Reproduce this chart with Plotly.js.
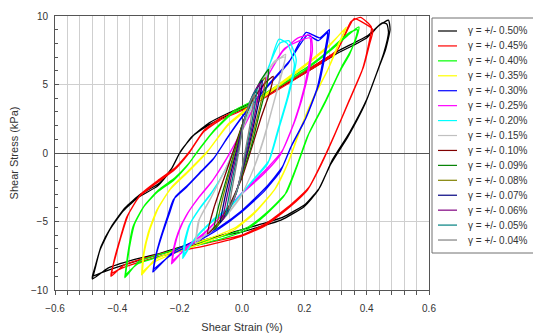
<!DOCTYPE html>
<html><head><meta charset="utf-8">
<script src="https://cdn.plot.ly/plotly-3.0.1.min.js"></script>
<style>html,body{margin:0;padding:0;background:#fff;}#chart{width:533px;height:336px;}</style>
</head><body><div id="chart"></div>
<script>
// Series labels
const labels = ["γ = +/- 0.50%","γ = +/- 0.45%","γ = +/- 0.40%","γ = +/- 0.35%","γ = +/- 0.30%","γ = +/- 0.25%","γ = +/- 0.20%","γ = +/- 0.15%","γ = +/- 0.10%","γ = +/- 0.09%","γ = +/- 0.08%","γ = +/- 0.07%","γ = +/- 0.06%","γ = +/- 0.05%","γ = +/- 0.04%"];
const colors = ["#000000","#ff0000","#00ff00","#ffff00","#0000ff","#ff00ff","#00ffff","#c0c0c0","#800000","#008000","#808000","#000080","#800080","#008080","#808080"];

// Shear strain (%) / shear stress (kPa) loops (two cycles for the larger loops)
const strain050 = [-0.48,-0.472,-0.456,-0.424,-0.38,-0.33,-0.27,-0.23,-0.2,-0.16,-0.11,-0.05,0.02,0.1,0.2,0.3,0.4,0.44,0.47,0.475,0.46,0.44,0.40,0.345,0.29,0.25,0.205,0.13,0.06,0.0,-0.05,-0.16,-0.26,-0.35,-0.43,-0.48];
const stress050 = [-9.2,-8.5,-7.1,-5.6,-4.2,-3.2,-2.4,-1.3,0,1.2,2.0,2.7,3.4,4.5,5.8,7.2,8.4,9.3,9.7,9.0,7.5,6.3,3.9,1.5,-0.5,-2.5,-3.7,-4.7,-5.2,-5.6,-5.9,-6.6,-7.3,-7.8,-8.4,-9.2];
const strain050b = [-0.48,-0.47,-0.452,-0.42,-0.375,-0.325,-0.265,-0.225,-0.195,-0.155,-0.105,-0.045,0.025,0.105,0.205,0.305,0.405,0.45,0.465,0.47,0.455,0.435,0.395,0.34,0.285,0.245,0.2,0.125,0.055,-0.005,-0.055,-0.165,-0.265,-0.355,-0.435,-0.48];
const stress050b = [-9.0,-8.2,-6.8,-5.4,-4.0,-3.0,-2.2,-1.1,0.2,1.3,2.2,2.9,3.6,4.7,6.0,7.4,8.6,9.5,9.4,8.8,7.3,6.0,3.6,1.2,-0.8,-2.7,-3.9,-4.9,-5.4,-5.8,-6.0,-6.8,-7.4,-8.0,-8.6,-9.0];
const strain045 = [-0.42,-0.41,-0.393,-0.37,-0.33,-0.275,-0.22,-0.17,-0.125,-0.07,0.0,0.1,0.2,0.3,0.36,0.39,0.42,0.41,0.39,0.345,0.3,0.26,0.215,0.16,0.08,0.0,-0.1,-0.2,-0.3,-0.38,-0.42];
const stress045 = [-9.0,-7.8,-6.4,-4.7,-3.2,-2.2,-1.3,0,1.5,2.4,3.1,4.4,5.8,7.3,9.8,9.5,9.0,8.0,6.3,3.9,1.5,-0.5,-2.5,-3.7,-5.1,-6.0,-6.5,-7.0,-7.6,-8.2,-9.0];
const strain045b = [-0.42,-0.405,-0.388,-0.365,-0.325,-0.27,-0.215,-0.165,-0.12,-0.065,0.005,0.105,0.205,0.305,0.35,0.38,0.415,0.405,0.385,0.34,0.295,0.255,0.21,0.155,0.075,-0.005,-0.105,-0.205,-0.305,-0.385,-0.42];
const stress045b = [-8.8,-7.5,-6.1,-4.5,-3.0,-2.0,-1.1,0.2,1.7,2.6,3.3,4.6,6.0,7.5,9.6,9.9,9.2,7.8,6.0,3.6,1.2,-0.8,-2.7,-3.9,-5.3,-6.1,-6.7,-7.2,-7.8,-8.4,-8.8];
const strain040 = [-0.376,-0.366,-0.35,-0.318,-0.274,-0.22,-0.178,-0.146,-0.094,-0.03,0.03,0.1,0.2,0.28,0.34,0.375,0.37,0.35,0.32,0.27,0.216,0.184,0.142,0.077,0.02,-0.05,-0.15,-0.25,-0.33,-0.376];
const stress040 = [-9.1,-7.3,-5.4,-4.0,-2.9,-2.0,-1.0,0,1.5,2.9,3.6,4.6,6.0,7.4,8.6,9.2,8.6,7.5,6.3,3.9,1.5,-0.5,-2.9,-4.4,-5.4,-6.0,-6.6,-7.3,-7.9,-9.1];
const strain040b = [-0.374,-0.362,-0.345,-0.312,-0.268,-0.215,-0.172,-0.14,-0.088,-0.025,0.035,0.105,0.205,0.285,0.345,0.37,0.365,0.345,0.315,0.265,0.21,0.178,0.136,0.072,0.015,-0.055,-0.155,-0.255,-0.335,-0.374];
const stress040b = [-8.9,-7.0,-5.2,-3.8,-2.7,-1.8,-0.8,0.2,1.7,3.1,3.8,4.8,6.2,7.6,8.8,9.0,8.4,7.2,6.0,3.6,1.2,-0.8,-3.1,-4.6,-5.6,-6.2,-6.8,-7.5,-8.1,-8.9];
const strain035 = [-0.322,-0.318,-0.302,-0.274,-0.232,-0.178,-0.114,-0.05,0.014,0.1,0.2,0.28,0.335,0.312,0.28,0.226,0.184,0.152,0.11,0.046,-0.018,-0.1,-0.2,-0.28,-0.322];
const stress035 = [-8.9,-7.6,-5.9,-4.2,-2.7,-1.5,0,1.9,3.1,4.6,6.3,7.8,9.2,8.0,6.3,3.9,1.5,-0.5,-2.5,-4.2,-5.4,-6.2,-7.0,-7.8,-8.9];
const strain035b = [-0.32,-0.314,-0.297,-0.268,-0.226,-0.172,-0.108,-0.045,0.018,0.105,0.205,0.285,0.33,0.306,0.274,0.22,0.178,0.146,0.104,0.04,-0.024,-0.105,-0.205,-0.285,-0.32];
const stress035b = [-8.7,-7.3,-5.7,-4.0,-2.5,-1.3,0.2,2.1,3.3,4.8,6.5,8.0,9.0,7.8,6.0,3.6,1.2,-0.8,-2.7,-4.4,-5.6,-6.4,-7.2,-8.0,-8.7];
const strain030 = [-0.286,-0.28,-0.264,-0.24,-0.22,-0.178,-0.136,-0.094,-0.05,0.0,0.08,0.15,0.206,0.25,0.28,0.28,0.248,0.206,0.162,0.13,0.077,0.0,-0.072,-0.15,-0.22,-0.286];
const stress030 = [-8.7,-7.8,-6.4,-4.7,-3.4,-2.5,-1.5,-0.5,1.0,2.6,4.8,6.6,8.8,8.4,9.0,8.8,5.1,2.6,0.7,-1.0,-2.5,-4.2,-5.4,-6.4,-7.2,-8.7];
const strain030b = [-0.284,-0.276,-0.258,-0.234,-0.214,-0.172,-0.13,-0.088,-0.045,0.005,0.085,0.155,0.21,0.245,0.275,0.274,0.242,0.2,0.156,0.124,0.071,-0.006,-0.078,-0.155,-0.225,-0.284];
const stress030b = [-8.5,-7.5,-6.1,-4.5,-3.2,-2.3,-1.3,-0.3,1.2,2.8,5.0,6.8,8.6,8.2,8.8,8.5,4.8,2.3,0.4,-1.3,-2.8,-4.4,-5.6,-6.6,-7.4,-8.5];
const strain025 = [-0.226,-0.22,-0.205,-0.18,-0.14,-0.1,-0.06,-0.02,0.03,0.08,0.13,0.18,0.22,0.226,0.206,0.174,0.13,0.077,0.0,-0.072,-0.12,-0.18,-0.226];
const stress025 = [-8.1,-7.0,-5.8,-4.6,-3.3,-2.2,-0.8,0.8,3.0,5.5,7.4,8.4,8.6,7.5,5.1,2.6,0.2,-1.2,-2.9,-4.7,-5.8,-6.9,-8.1];
const strain025b = [-0.224,-0.216,-0.2,-0.174,-0.134,-0.094,-0.054,-0.015,0.035,0.085,0.135,0.185,0.218,0.22,0.2,0.168,0.124,0.071,-0.006,-0.078,-0.126,-0.185,-0.224];
const stress025b = [-7.9,-6.8,-5.6,-4.4,-3.1,-2.0,-0.6,1.0,3.2,5.7,7.6,8.2,8.4,7.2,4.8,2.3,-0.1,-1.5,-3.1,-4.9,-6.0,-7.1,-7.9];
const strain020 = [-0.19,-0.185,-0.17,-0.14,-0.1,-0.06,-0.03,0.0,0.04,0.08,0.12,0.15,0.174,0.152,0.12,0.088,0.034,-0.03,-0.094,-0.15,-0.19];
const stress020 = [-7.7,-6.5,-5.3,-4.2,-3.0,-1.5,0.0,1.8,4.0,6.0,8.0,8.2,6.8,4.4,1.9,-0.5,-2.0,-3.7,-4.9,-6.2,-7.7];
const strain020b = [-0.188,-0.18,-0.165,-0.135,-0.095,-0.055,-0.025,0.005,0.045,0.085,0.118,0.145,0.168,0.146,0.114,0.082,0.028,-0.036,-0.1,-0.155,-0.188];
const stress020b = [-7.5,-6.3,-5.1,-4.0,-2.8,-1.3,0.2,2.0,4.2,6.2,8.3,8.0,6.5,4.1,1.6,-0.8,-2.2,-3.9,-5.1,-6.4,-7.5];
const strain015 = [-0.15,-0.14,-0.1,-0.06,-0.02,0.02,0.06,0.1,0.14,0.13,0.1,0.07,0.04,0.0,-0.05,-0.1,-0.15];
const stress015 = [-6.6,-5.0,-3.3,-1.5,0.5,2.8,5.0,6.5,7.2,6.0,3.5,1.0,-1.0,-3.0,-4.5,-5.6,-6.6];
const strain015b = [-0.148,-0.136,-0.096,-0.056,-0.016,0.024,0.064,0.104,0.138,0.126,0.096,0.066,0.036,-0.004,-0.054,-0.104,-0.148];
const stress015b = [-6.4,-4.8,-3.1,-1.3,0.7,3.0,5.2,6.7,7.0,5.8,3.2,0.8,-1.2,-3.2,-4.7,-5.8,-6.4];
const strain010 = [-0.11,-0.09,-0.06,-0.03,0.0,0.03,0.07,0.1,0.09,0.06,0.03,0.0,-0.04,-0.08,-0.11];
const stress010 = [-5.9,-4.0,-2.0,0.0,2.0,3.7,5.0,5.6,4.5,2.5,0.3,-1.8,-3.8,-5.2,-5.9];
const strain009 = [-0.09,-0.075,-0.05,-0.025,0.0,0.03,0.06,0.085,0.08,0.055,0.03,0.0,-0.03,-0.065,-0.09];
const stress009 = [-5.6,-3.9,-1.9,0.0,2.0,3.8,5.3,6.1,5.0,2.8,0.5,-1.6,-3.5,-4.9,-5.6];
const strain008 = [-0.08,-0.066,-0.045,-0.02,0.0,0.025,0.05,0.075,0.07,0.05,0.025,0.0,-0.025,-0.058,-0.08];
const stress008 = [-5.3,-3.7,-1.8,0.2,1.9,3.5,4.8,5.5,4.6,2.7,0.5,-1.5,-3.3,-4.6,-5.3];
const strain007 = [-0.07,-0.058,-0.04,-0.018,0.0,0.02,0.045,0.065,0.06,0.043,0.022,0.0,-0.022,-0.05,-0.07];
const stress007 = [-5.1,-3.6,-1.8,0.1,1.8,3.3,4.6,5.3,4.4,2.6,0.5,-1.4,-3.1,-4.4,-5.1];
const strain006 = [-0.062,-0.05,-0.034,-0.015,0.0,0.018,0.038,0.058,0.053,0.038,0.02,0.0,-0.02,-0.044,-0.062];
const stress006 = [-4.9,-3.4,-1.7,0.1,1.7,3.2,4.4,5.1,4.2,2.5,0.6,-1.3,-3.0,-4.2,-4.9];
const strain005 = [-0.052,-0.042,-0.028,-0.012,0.0,0.015,0.032,0.048,0.044,0.032,0.017,0.0,-0.016,-0.036,-0.052];
const stress005 = [-4.6,-3.2,-1.6,0.1,1.6,3.0,4.1,4.7,3.9,2.3,0.6,-1.2,-2.8,-3.9,-4.6];
const strain004 = [-0.042,-0.034,-0.022,-0.01,0.0,0.012,0.026,0.04,0.036,0.026,0.014,0.0,-0.013,-0.029,-0.042];
const stress004 = [-4.1,-2.9,-1.4,0.1,1.5,2.7,3.7,4.3,3.6,2.1,0.6,-1.1,-2.5,-3.5,-4.1];

const strains = [strain050.concat(strain050b),strain045.concat(strain045b),strain040.concat(strain040b),strain035.concat(strain035b),strain030.concat(strain030b),strain025.concat(strain025b),strain020.concat(strain020b),strain015.concat(strain015b),strain010,strain009,strain008,strain007,strain006,strain005,strain004];
const stresses = [stress050.concat(stress050b),stress045.concat(stress045b),stress040.concat(stress040b),stress035.concat(stress035b),stress030.concat(stress030b),stress025.concat(stress025b),stress020.concat(stress020b),stress015.concat(stress015b),stress010,stress009,stress008,stress007,stress006,stress005,stress004];

const traces = labels.map((name,i)=>({
  x: strains[i], y: stresses[i], name: name, type:'scatter', mode:'lines', showlegend:false,
  line:{color:colors[i], width:1.3, shape:'spline', smoothing:0.5}
}));

// Hand-built legend (pixel layout -> paper coords)
const plotL = 55, plotR = 429, plotT = 16, plotB = 290;
const px = p => (p - plotL) / (plotR - plotL);
const py = p => (plotB - p) / (plotB - plotT);
const shapes = [{type:'rect', xref:'paper', yref:'paper', x0:px(432), x1:px(545), y0:py(253), y1:py(18),
                 line:{color:'#707070', width:1}, fillcolor:'#fff', layer:'above'}];
const annotations = [];
labels.forEach((name,i)=>{
  const yy = 31 + i*14.93;
  shapes.push({type:'line', xref:'paper', yref:'paper', x0:px(438), x1:px(457), y0:py(yy), y1:py(yy),
               line:{color:colors[i], width:1.2}, layer:'above'});
  annotations.push({xref:'paper', yref:'paper', x:px(466), y:py(yy), xanchor:'left', yanchor:'middle',
                    text:name, showarrow:false, font:{family:'"Liberation Sans", Arial, sans-serif', size:10, color:'#333'}});
});

const font = {family:'"Liberation Sans", Arial, sans-serif', color:'#333', size:10};
const layout = {
  width:533, height:336,
  margin:{l:plotL, r:533-plotR, t:plotT, b:336-plotB},
  paper_bgcolor:'#fff', plot_bgcolor:'#fff',
  font: font, showlegend:false,
  shapes: shapes, annotations: annotations,
  xaxis:{range:[-0.6,0.6], dtick:0.2, tickformat:'.1f', showgrid:true, gridcolor:'#cfcfcf', gridwidth:1,
         zeroline:true, zerolinecolor:'#555', zerolinewidth:1,
         showline:true, linecolor:'#555', mirror:true, ticks:'outside', ticklen:4, tickcolor:'#555',
         ticklabelstandoff:5,
         minor:{dtick:0.04, showgrid:true, gridcolor:'#cfcfcf', ticks:'outside', ticklen:4, tickcolor:'#555'},
         title:{text:'Shear Strain (%)', font:{size:11, color:'#333'}, standoff:10},
         tickfont:{size:10, color:'#333'}},
  yaxis:{range:[-10,10], dtick:5, showgrid:true, gridcolor:'#cfcfcf', gridwidth:1,
         zeroline:true, zerolinecolor:'#555', zerolinewidth:1,
         showline:true, linecolor:'#555', mirror:true, ticks:'inside', ticklen:4, tickcolor:'#555',
         ticklabelstandoff:4,
         minor:{dtick:1, showgrid:false, ticks:'inside', ticklen:3, tickcolor:'#555'},
         title:{text:'Shear Stress (kPa)', font:{size:11, color:'#333'}, standoff:10},
         tickfont:{size:10, color:'#333'}}
};
Plotly.newPlot('chart', traces, layout, {displayModeBar:false, staticPlot:true});
</script></body></html>
